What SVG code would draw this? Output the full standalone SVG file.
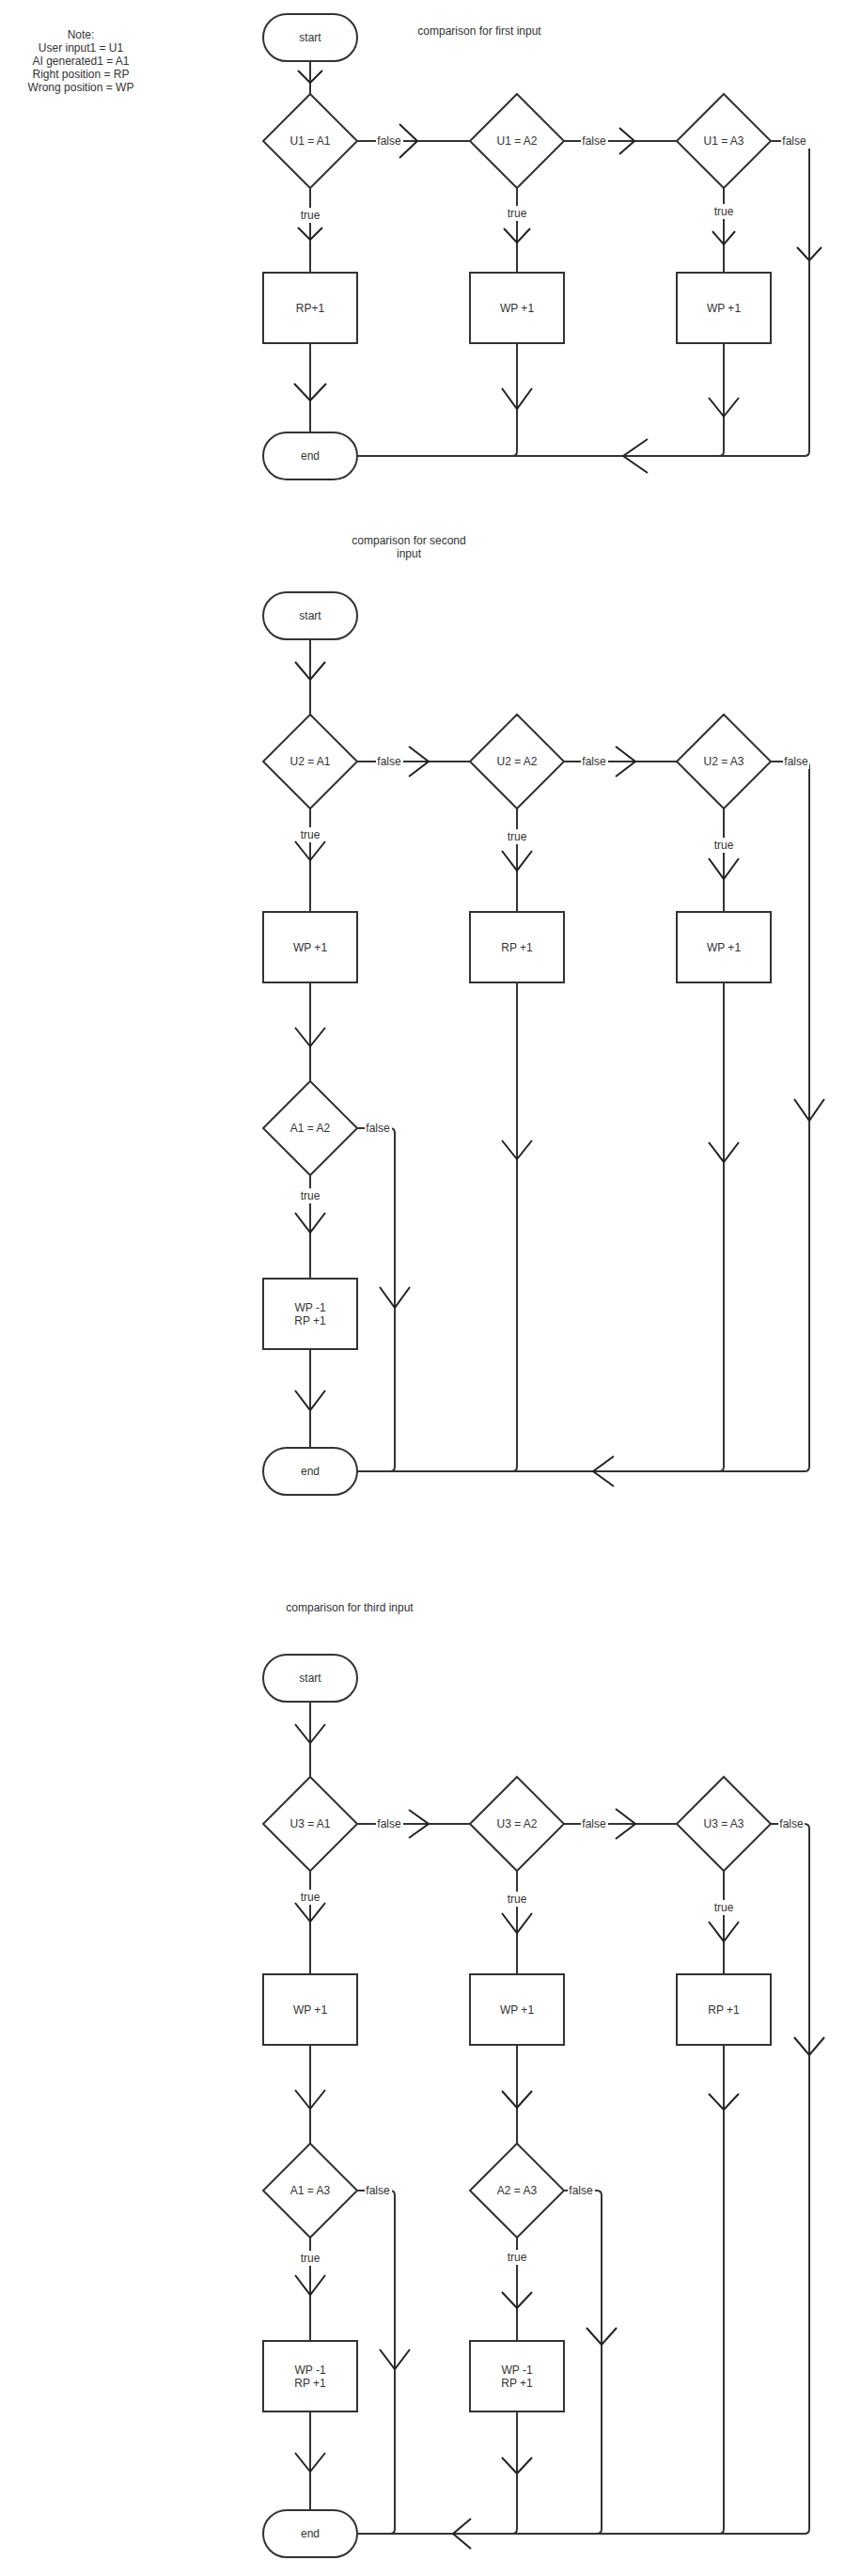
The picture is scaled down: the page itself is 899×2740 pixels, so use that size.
<svg xmlns="http://www.w3.org/2000/svg" width="899" height="2740" viewBox="0 0 899 2740">
<style>
text{font-family:"Liberation Sans",Arial,sans-serif;font-size:12px;fill:#333;text-anchor:middle}
.n{fill:#fff;stroke:#333;stroke-width:2}
.c{fill:none;stroke:#333;stroke-width:2}
.ah{fill:none;stroke:#222;stroke-width:2}
.bg{fill:#fff}
</style>
<rect width="899" height="2740" fill="#fff"/>

<g id="note">
<text x="86" y="41">Note:</text>
<text x="86" y="55">User input1 = U1</text>
<text x="86" y="69">AI generated1 = A1</text>
<text x="86" y="83">Right position = RP</text>
<text x="86" y="97">Wrong position = WP</text>
</g>
<g id="title1"><text x="510" y="37">comparison for first input</text></g>
<g id="title2"><text x="435" y="579">comparison for second</text><text x="435" y="593">input</text></g>
<g id="title3"><text x="372" y="1714">comparison for third input</text></g>

<!-- connectors -->
<g id="connectors">
<!-- section 1 -->
<path class="c" d="M330 65V100"/>
<path class="c" d="M380 150H500"/>
<path class="c" d="M600 150H720"/>
<path class="c" d="M820 150H856Q861 150 861 155V480Q861 485 856 485H380"/>
<path class="c" d="M330 200V290"/>
<path class="c" d="M550 200V290"/>
<path class="c" d="M770 200V290"/>
<path class="c" d="M330 365V460"/>
<path class="c" d="M550 365V480Q550 485 545 485H380"/>
<path class="c" d="M770 365V480Q770 485 765 485H380"/>
<polyline class="ah" points="317,75 330,88 343,75"/>
<polyline class="ah" points="425,132 444,150 425,168"/>
<polyline class="ah" points="659,136 675,150 659,164"/>
<polyline class="ah" points="848,263 861,277 874,263"/>
<polyline class="ah" points="317,242 330,255 343,242"/>
<polyline class="ah" points="536,243 550,258 564,243"/>
<polyline class="ah" points="758,246 770,260 782,246"/>
<polyline class="ah" points="313,408 330,426 347,408"/>
<polyline class="ah" points="534,413 550,435 566,413"/>
<polyline class="ah" points="754,423 770,443 786,423"/>
<polyline class="ah" points="689,467 663,485 689,503"/>
<rect class="bg" x="400" y="142" width="29" height="16"/><text x="414" y="154">false</text>
<rect class="bg" x="618" y="142" width="29" height="16"/><text x="632" y="154">false</text>
<rect class="bg" x="831" y="142" width="33" height="16"/><text x="845" y="154">false</text>
<rect class="bg" x="318" y="221" width="24" height="16"/><text x="330" y="233">true</text>
<rect class="bg" x="538" y="219" width="24" height="16"/><text x="550" y="231">true</text>
<rect class="bg" x="758" y="217" width="24" height="16"/><text x="770" y="229">true</text>

<!-- section 2 -->
<path class="c" d="M330 680V760"/>
<path class="c" d="M380 810H500"/>
<path class="c" d="M600 810H720"/>
<path class="c" d="M820 810H856Q861 810 861 815V1560Q861 1565 856 1565H380"/>
<path class="c" d="M330 860V970"/>
<path class="c" d="M550 860V970"/>
<path class="c" d="M770 860V970"/>
<path class="c" d="M330 1045V1150"/>
<path class="c" d="M330 1250V1360"/>
<path class="c" d="M380 1200H415Q420 1200 420 1205V1560Q420 1565 415 1565H380"/>
<path class="c" d="M330 1435V1540"/>
<path class="c" d="M550 1045V1560Q550 1565 545 1565H380"/>
<path class="c" d="M770 1045V1560Q770 1565 765 1565H380"/>
<polyline class="ah" points="314,704 330,723 346,704"/>
<polyline class="ah" points="435,794 456,810 435,826"/>
<polyline class="ah" points="655,794 676,810 655,826"/>
<polyline class="ah" points="845,1169 861,1192 877,1169"/>
<polyline class="ah" points="314,895 330,915 346,895"/>
<polyline class="ah" points="534,905 550,926 566,905"/>
<polyline class="ah" points="754,913 770,935 786,913"/>
<polyline class="ah" points="314,1093 330,1113 346,1093"/>
<polyline class="ah" points="314,1290 330,1311 346,1290"/>
<polyline class="ah" points="404,1369 420,1391 436,1369"/>
<polyline class="ah" points="314,1479 330,1500 346,1479"/>
<polyline class="ah" points="534,1213 550,1233 566,1213"/>
<polyline class="ah" points="754,1215 770,1236 786,1215"/>
<polyline class="ah" points="653,1549 631,1565 653,1581"/>
<rect class="bg" x="400" y="802" width="29" height="16"/><text x="414" y="814">false</text>
<rect class="bg" x="618" y="802" width="29" height="16"/><text x="632" y="814">false</text>
<rect class="bg" x="833" y="802" width="28" height="16"/><text x="847" y="814">false</text>
<rect class="bg" x="318" y="880" width="24" height="16"/><text x="330" y="892">true</text>
<rect class="bg" x="538" y="882" width="24" height="16"/><text x="550" y="894">true</text>
<rect class="bg" x="758" y="891" width="24" height="16"/><text x="770" y="903">true</text>
<rect class="bg" x="388" y="1192" width="29" height="16"/><text x="402" y="1204">false</text>
<rect class="bg" x="318" y="1264" width="24" height="16"/><text x="330" y="1276">true</text>

<!-- section 3 -->
<path class="c" d="M330 1810V1890"/>
<path class="c" d="M380 1940H500"/>
<path class="c" d="M600 1940H720"/>
<path class="c" d="M820 1940H856Q861 1940 861 1945V2690Q861 2695 856 2695H380"/>
<path class="c" d="M330 1990V2100"/>
<path class="c" d="M550 1990V2100"/>
<path class="c" d="M770 1990V2100"/>
<path class="c" d="M330 2175V2280"/>
<path class="c" d="M550 2175V2280"/>
<path class="c" d="M770 2175V2690Q770 2695 765 2695H380"/>
<path class="c" d="M330 2380V2490"/>
<path class="c" d="M550 2380V2490"/>
<path class="c" d="M380 2330H415Q420 2330 420 2335V2690Q420 2695 415 2695H380"/>
<path class="c" d="M600 2330H635Q640 2330 640 2335V2690Q640 2695 635 2695H380"/>
<path class="c" d="M330 2565V2670"/>
<path class="c" d="M550 2565V2690Q550 2695 545 2695H380"/>
<polyline class="ah" points="314,1834 330,1854 346,1834"/>
<polyline class="ah" points="435,1925 456,1940 435,1955"/>
<polyline class="ah" points="655,1924 676,1940 655,1956"/>
<polyline class="ah" points="845,2167 861,2186 877,2167"/>
<polyline class="ah" points="314,2024 330,2044 346,2024"/>
<polyline class="ah" points="534,2035 550,2056 566,2035"/>
<polyline class="ah" points="754,2044 770,2065 786,2044"/>
<polyline class="ah" points="314,2223 330,2243 346,2223"/>
<polyline class="ah" points="534,2224 550,2242 566,2224"/>
<polyline class="ah" points="754,2227 770,2244 786,2227"/>
<polyline class="ah" points="314,2420 330,2441 346,2420"/>
<polyline class="ah" points="534,2438 550,2455 566,2438"/>
<polyline class="ah" points="404,2499 420,2520 436,2499"/>
<polyline class="ah" points="624,2476 640,2494 656,2476"/>
<polyline class="ah" points="314,2609 330,2629 346,2609"/>
<polyline class="ah" points="534,2614 550,2631 566,2614"/>
<polyline class="ah" points="501,2679 482,2695 501,2711"/>
<rect class="bg" x="400" y="1932" width="29" height="16"/><text x="414" y="1944">false</text>
<rect class="bg" x="618" y="1932" width="29" height="16"/><text x="632" y="1944">false</text>
<rect class="bg" x="828" y="1932" width="28" height="16"/><text x="842" y="1944">false</text>
<rect class="bg" x="318" y="2010" width="24" height="16"/><text x="330" y="2022">true</text>
<rect class="bg" x="538" y="2012" width="24" height="16"/><text x="550" y="2024">true</text>
<rect class="bg" x="758" y="2021" width="24" height="16"/><text x="770" y="2033">true</text>
<rect class="bg" x="388" y="2322" width="29" height="16"/><text x="402" y="2334">false</text>
<rect class="bg" x="604" y="2322" width="29" height="16"/><text x="618" y="2334">false</text>
<rect class="bg" x="318" y="2394" width="24" height="16"/><text x="330" y="2406">true</text>
<rect class="bg" x="538" y="2393" width="24" height="16"/><text x="550" y="2405">true</text>
</g>

<!-- section 1 nodes -->
<g id="s1-start"><rect class="n" x="280" y="15" width="100" height="50" rx="25"/><text x="330" y="44">start</text></g>
<g id="s1-d1"><polygon class="n" points="330,100 380,150 330,200 280,150"/><text x="330" y="154">U1 = A1</text></g>
<g id="s1-d2"><polygon class="n" points="550,100 600,150 550,200 500,150"/><text x="550" y="154">U1 = A2</text></g>
<g id="s1-d3"><polygon class="n" points="770,100 820,150 770,200 720,150"/><text x="770" y="154">U1 = A3</text></g>
<g id="s1-r1"><rect class="n" x="280" y="290" width="100" height="75"/><text x="330" y="332">RP+1</text></g>
<g id="s1-r2"><rect class="n" x="500" y="290" width="100" height="75"/><text x="550" y="332">WP +1</text></g>
<g id="s1-r3"><rect class="n" x="720" y="290" width="100" height="75"/><text x="770" y="332">WP +1</text></g>
<g id="s1-end"><rect class="n" x="280" y="460" width="100" height="50" rx="25"/><text x="330" y="489">end</text></g>

<!-- section 2 nodes -->
<g id="s2-start"><rect class="n" x="280" y="630" width="100" height="50" rx="25"/><text x="330" y="659">start</text></g>
<g id="s2-d1"><polygon class="n" points="330,760 380,810 330,860 280,810"/><text x="330" y="814">U2 = A1</text></g>
<g id="s2-d2"><polygon class="n" points="550,760 600,810 550,860 500,810"/><text x="550" y="814">U2 = A2</text></g>
<g id="s2-d3"><polygon class="n" points="770,760 820,810 770,860 720,810"/><text x="770" y="814">U2 = A3</text></g>
<g id="s2-r1"><rect class="n" x="280" y="970" width="100" height="75"/><text x="330" y="1012">WP +1</text></g>
<g id="s2-r2"><rect class="n" x="500" y="970" width="100" height="75"/><text x="550" y="1012">RP +1</text></g>
<g id="s2-r3"><rect class="n" x="720" y="970" width="100" height="75"/><text x="770" y="1012">WP +1</text></g>
<g id="s2-d4"><polygon class="n" points="330,1150 380,1200 330,1250 280,1200"/><text x="330" y="1204">A1 = A2</text></g>
<g id="s2-r4"><rect class="n" x="280" y="1360" width="100" height="75"/><text x="330" y="1395">WP -1</text><text x="330" y="1409">RP +1</text></g>
<g id="s2-end"><rect class="n" x="280" y="1540" width="100" height="50" rx="25"/><text x="330" y="1569">end</text></g>

<!-- section 3 nodes -->
<g id="s3-start"><rect class="n" x="280" y="1760" width="100" height="50" rx="25"/><text x="330" y="1789">start</text></g>
<g id="s3-d1"><polygon class="n" points="330,1890 380,1940 330,1990 280,1940"/><text x="330" y="1944">U3 = A1</text></g>
<g id="s3-d2"><polygon class="n" points="550,1890 600,1940 550,1990 500,1940"/><text x="550" y="1944">U3 = A2</text></g>
<g id="s3-d3"><polygon class="n" points="770,1890 820,1940 770,1990 720,1940"/><text x="770" y="1944">U3 = A3</text></g>
<g id="s3-r1"><rect class="n" x="280" y="2100" width="100" height="75"/><text x="330" y="2142">WP +1</text></g>
<g id="s3-r2"><rect class="n" x="500" y="2100" width="100" height="75"/><text x="550" y="2142">WP +1</text></g>
<g id="s3-r3"><rect class="n" x="720" y="2100" width="100" height="75"/><text x="770" y="2142">RP +1</text></g>
<g id="s3-d4"><polygon class="n" points="330,2280 380,2330 330,2380 280,2330"/><text x="330" y="2334">A1 = A3</text></g>
<g id="s3-d5"><polygon class="n" points="550,2280 600,2330 550,2380 500,2330"/><text x="550" y="2334">A2 = A3</text></g>
<g id="s3-r4"><rect class="n" x="280" y="2490" width="100" height="75"/><text x="330" y="2525">WP -1</text><text x="330" y="2539">RP +1</text></g>
<g id="s3-r5"><rect class="n" x="500" y="2490" width="100" height="75"/><text x="550" y="2525">WP -1</text><text x="550" y="2539">RP +1</text></g>
<g id="s3-end"><rect class="n" x="280" y="2670" width="100" height="50" rx="25"/><text x="330" y="2699">end</text></g>
</svg>
